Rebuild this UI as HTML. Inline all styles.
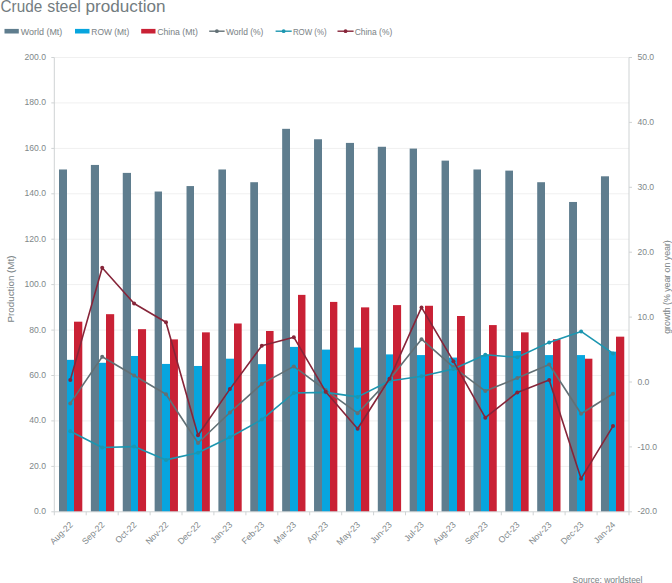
<!DOCTYPE html><html><head><meta charset="utf-8"><style>html,body{margin:0;padding:0;background:#fff;width:672px;height:583px;overflow:hidden}svg{display:block}text{font-family:"Liberation Sans",sans-serif;stroke-width:0}</style></head><body>
<svg width="672" height="583" viewBox="0 0 672 583">
<rect width="672" height="583" fill="#fff"/>
<text x="0.6" y="12.4" font-size="15.6" fill="#737c80" stroke="#737c80" style="stroke-width:0" textLength="41.6" lengthAdjust="spacingAndGlyphs">Crude</text>
<text x="47.2" y="12.4" font-size="15.6" fill="#737c80" stroke="#737c80" style="stroke-width:0" textLength="33.6" lengthAdjust="spacingAndGlyphs">steel</text>
<text x="85.5" y="12.4" font-size="15.6" fill="#737c80" stroke="#737c80" style="stroke-width:0" textLength="80.0" lengthAdjust="spacingAndGlyphs">production</text>
<rect x="4.5" y="28.9" width="14.3" height="4.6" fill="#5f7d8e"/>
<text x="20.8" y="34.5" font-size="9" fill="#80878a" stroke="#80878a" style="stroke-width:0.06" textLength="41.5" lengthAdjust="spacingAndGlyphs">World (Mt)</text>
<rect x="75" y="28.9" width="14.5" height="4.6" fill="#07a5de"/>
<text x="91.3" y="34.5" font-size="9" fill="#80878a" stroke="#80878a" style="stroke-width:0.06" textLength="37.89999999999999" lengthAdjust="spacingAndGlyphs">ROW (Mt)</text>
<rect x="141.2" y="28.9" width="14.300000000000011" height="4.6" fill="#c92135"/>
<text x="157.2" y="34.5" font-size="9" fill="#80878a" stroke="#80878a" style="stroke-width:0.06" textLength="40.60000000000002" lengthAdjust="spacingAndGlyphs">China (Mt)</text>
<line x1="209.2" y1="31.2" x2="224.6" y2="31.2" stroke="#627075" stroke-width="1.4"/>
<circle cx="216.89999999999998" cy="31.2" r="1.9" fill="#627075"/>
<text x="226" y="34.5" font-size="9" fill="#80878a" stroke="#80878a" style="stroke-width:0.06" textLength="37.39999999999998" lengthAdjust="spacingAndGlyphs">World (%)</text>
<line x1="275.6" y1="31.2" x2="291.7" y2="31.2" stroke="#1c96b0" stroke-width="1.4"/>
<circle cx="283.65" cy="31.2" r="1.9" fill="#1c96b0"/>
<text x="292.9" y="34.5" font-size="9" fill="#80878a" stroke="#80878a" style="stroke-width:0.06" textLength="33.700000000000045" lengthAdjust="spacingAndGlyphs">ROW (%)</text>
<line x1="337.5" y1="31.2" x2="353.6" y2="31.2" stroke="#862539" stroke-width="1.4"/>
<circle cx="345.55" cy="31.2" r="1.9" fill="#862539"/>
<text x="354.7" y="34.5" font-size="9" fill="#80878a" stroke="#80878a" style="stroke-width:0.06" textLength="37.5" lengthAdjust="spacingAndGlyphs">China (%)</text>
<line x1="54.3" y1="466.4" x2="629.0" y2="466.4" stroke="#f0f0f0" stroke-width="1"/>
<line x1="54.3" y1="420.9" x2="629.0" y2="420.9" stroke="#f0f0f0" stroke-width="1"/>
<line x1="54.3" y1="375.5" x2="629.0" y2="375.5" stroke="#f0f0f0" stroke-width="1"/>
<line x1="54.3" y1="330.1" x2="629.0" y2="330.1" stroke="#f0f0f0" stroke-width="1"/>
<line x1="54.3" y1="284.6" x2="629.0" y2="284.6" stroke="#f0f0f0" stroke-width="1"/>
<line x1="54.3" y1="239.2" x2="629.0" y2="239.2" stroke="#f0f0f0" stroke-width="1"/>
<line x1="54.3" y1="193.8" x2="629.0" y2="193.8" stroke="#f0f0f0" stroke-width="1"/>
<line x1="54.3" y1="148.4" x2="629.0" y2="148.4" stroke="#f0f0f0" stroke-width="1"/>
<line x1="54.3" y1="102.9" x2="629.0" y2="102.9" stroke="#f0f0f0" stroke-width="1"/>
<line x1="54.3" y1="57.5" x2="629.0" y2="57.5" stroke="#f0f0f0" stroke-width="1"/>
<rect x="59.00" y="169.48" width="8.00" height="342.32" fill="#5f7d8e"/>
<rect x="67.00" y="359.84" width="7.00" height="151.96" fill="#07a5de"/>
<rect x="74.00" y="321.68" width="8.30" height="190.12" fill="#c92135"/>
<rect x="90.88" y="164.94" width="8.12" height="346.86" fill="#5f7d8e"/>
<rect x="99.00" y="362.79" width="7.00" height="149.01" fill="#07a5de"/>
<rect x="106.00" y="314.18" width="8.18" height="197.62" fill="#c92135"/>
<rect x="122.76" y="172.89" width="8.24" height="338.91" fill="#5f7d8e"/>
<rect x="131.00" y="355.98" width="7.00" height="155.82" fill="#07a5de"/>
<rect x="138.00" y="329.17" width="8.06" height="182.63" fill="#c92135"/>
<rect x="154.64" y="191.52" width="7.36" height="320.28" fill="#5f7d8e"/>
<rect x="162.00" y="363.93" width="8.00" height="147.87" fill="#07a5de"/>
<rect x="170.00" y="339.39" width="7.94" height="172.41" fill="#c92135"/>
<rect x="186.52" y="186.07" width="7.48" height="325.73" fill="#5f7d8e"/>
<rect x="194.00" y="365.97" width="8.00" height="145.83" fill="#07a5de"/>
<rect x="202.00" y="332.35" width="7.82" height="179.45" fill="#c92135"/>
<rect x="218.40" y="169.48" width="7.60" height="342.32" fill="#5f7d8e"/>
<rect x="226.00" y="358.70" width="8.00" height="153.10" fill="#07a5de"/>
<rect x="234.00" y="323.49" width="7.70" height="188.31" fill="#c92135"/>
<rect x="250.28" y="182.21" width="7.72" height="329.59" fill="#5f7d8e"/>
<rect x="258.00" y="364.15" width="8.00" height="147.65" fill="#07a5de"/>
<rect x="266.00" y="330.99" width="7.58" height="180.81" fill="#c92135"/>
<rect x="282.16" y="128.83" width="7.84" height="382.97" fill="#5f7d8e"/>
<rect x="290.00" y="346.89" width="8.00" height="164.91" fill="#07a5de"/>
<rect x="298.00" y="294.87" width="7.46" height="216.93" fill="#c92135"/>
<rect x="314.04" y="139.27" width="7.96" height="372.53" fill="#5f7d8e"/>
<rect x="322.00" y="349.61" width="8.00" height="162.19" fill="#07a5de"/>
<rect x="330.00" y="301.91" width="7.34" height="209.89" fill="#c92135"/>
<rect x="345.92" y="142.91" width="8.08" height="368.89" fill="#5f7d8e"/>
<rect x="354.00" y="347.57" width="7.00" height="164.23" fill="#07a5de"/>
<rect x="361.00" y="307.37" width="8.22" height="204.44" fill="#c92135"/>
<rect x="377.80" y="146.77" width="8.20" height="365.03" fill="#5f7d8e"/>
<rect x="386.00" y="354.39" width="7.00" height="157.41" fill="#07a5de"/>
<rect x="393.00" y="305.09" width="8.10" height="206.71" fill="#c92135"/>
<rect x="409.68" y="148.59" width="7.32" height="363.21" fill="#5f7d8e"/>
<rect x="417.00" y="355.07" width="8.00" height="156.73" fill="#07a5de"/>
<rect x="425.00" y="305.77" width="7.98" height="206.03" fill="#c92135"/>
<rect x="441.56" y="160.63" width="7.44" height="351.17" fill="#5f7d8e"/>
<rect x="449.00" y="357.57" width="8.00" height="154.23" fill="#07a5de"/>
<rect x="457.00" y="316.00" width="7.86" height="195.80" fill="#c92135"/>
<rect x="473.44" y="169.48" width="7.56" height="342.32" fill="#5f7d8e"/>
<rect x="481.00" y="355.07" width="8.00" height="156.73" fill="#07a5de"/>
<rect x="489.00" y="325.08" width="7.74" height="186.72" fill="#c92135"/>
<rect x="505.32" y="170.62" width="7.68" height="341.18" fill="#5f7d8e"/>
<rect x="513.00" y="350.98" width="8.00" height="160.82" fill="#07a5de"/>
<rect x="521.00" y="332.35" width="7.62" height="179.45" fill="#c92135"/>
<rect x="537.20" y="182.21" width="7.80" height="329.59" fill="#5f7d8e"/>
<rect x="545.00" y="355.07" width="8.00" height="156.73" fill="#07a5de"/>
<rect x="553.00" y="339.17" width="7.50" height="172.63" fill="#c92135"/>
<rect x="569.08" y="201.97" width="7.92" height="309.83" fill="#5f7d8e"/>
<rect x="577.00" y="355.07" width="8.00" height="156.73" fill="#07a5de"/>
<rect x="585.00" y="358.70" width="7.38" height="153.10" fill="#c92135"/>
<rect x="600.96" y="176.30" width="8.04" height="335.50" fill="#5f7d8e"/>
<rect x="609.00" y="351.66" width="7.00" height="160.14" fill="#07a5de"/>
<rect x="616.00" y="336.67" width="8.26" height="175.13" fill="#c92135"/>
<line x1="54.3" y1="57.5" x2="54.3" y2="511.8" stroke="#cfd3d4" stroke-width="1"/>
<line x1="629.0" y1="57.5" x2="629.0" y2="511.8" stroke="#cfd3d4" stroke-width="1"/>
<line x1="54.3" y1="511.8" x2="629.0" y2="511.8" stroke="#cfd3d4" stroke-width="1"/>
<line x1="51.3" y1="511.8" x2="54.3" y2="511.8" stroke="#cfd3d4" stroke-width="1"/>
<text x="0" y="0" font-size="8.6" fill="#80878a" stroke="#80878a" text-anchor="end" transform="translate(46.0 514.3) scale(1 1.1)">0.0</text>
<line x1="51.3" y1="466.4" x2="54.3" y2="466.4" stroke="#cfd3d4" stroke-width="1"/>
<text x="0" y="0" font-size="8.6" fill="#80878a" stroke="#80878a" text-anchor="end" transform="translate(46.0 468.9) scale(1 1.1)">20.0</text>
<line x1="51.3" y1="420.9" x2="54.3" y2="420.9" stroke="#cfd3d4" stroke-width="1"/>
<text x="0" y="0" font-size="8.6" fill="#80878a" stroke="#80878a" text-anchor="end" transform="translate(46.0 423.4) scale(1 1.1)">40.0</text>
<line x1="51.3" y1="375.5" x2="54.3" y2="375.5" stroke="#cfd3d4" stroke-width="1"/>
<text x="0" y="0" font-size="8.6" fill="#80878a" stroke="#80878a" text-anchor="end" transform="translate(46.0 378.0) scale(1 1.1)">60.0</text>
<line x1="51.3" y1="330.1" x2="54.3" y2="330.1" stroke="#cfd3d4" stroke-width="1"/>
<text x="0" y="0" font-size="8.6" fill="#80878a" stroke="#80878a" text-anchor="end" transform="translate(46.0 332.6) scale(1 1.1)">80.0</text>
<line x1="51.3" y1="284.6" x2="54.3" y2="284.6" stroke="#cfd3d4" stroke-width="1"/>
<text x="0" y="0" font-size="8.6" fill="#80878a" stroke="#80878a" text-anchor="end" transform="translate(46.0 287.1) scale(1 1.1)">100.0</text>
<line x1="51.3" y1="239.2" x2="54.3" y2="239.2" stroke="#cfd3d4" stroke-width="1"/>
<text x="0" y="0" font-size="8.6" fill="#80878a" stroke="#80878a" text-anchor="end" transform="translate(46.0 241.7) scale(1 1.1)">120.0</text>
<line x1="51.3" y1="193.8" x2="54.3" y2="193.8" stroke="#cfd3d4" stroke-width="1"/>
<text x="0" y="0" font-size="8.6" fill="#80878a" stroke="#80878a" text-anchor="end" transform="translate(46.0 196.3) scale(1 1.1)">140.0</text>
<line x1="51.3" y1="148.4" x2="54.3" y2="148.4" stroke="#cfd3d4" stroke-width="1"/>
<text x="0" y="0" font-size="8.6" fill="#80878a" stroke="#80878a" text-anchor="end" transform="translate(46.0 150.9) scale(1 1.1)">160.0</text>
<line x1="51.3" y1="102.9" x2="54.3" y2="102.9" stroke="#cfd3d4" stroke-width="1"/>
<text x="0" y="0" font-size="8.6" fill="#80878a" stroke="#80878a" text-anchor="end" transform="translate(46.0 105.4) scale(1 1.1)">180.0</text>
<line x1="51.3" y1="57.5" x2="54.3" y2="57.5" stroke="#cfd3d4" stroke-width="1"/>
<text x="0" y="0" font-size="8.6" fill="#80878a" stroke="#80878a" text-anchor="end" transform="translate(46.0 60.0) scale(1 1.1)">200.0</text>
<line x1="629.0" y1="511.8" x2="632.0" y2="511.8" stroke="#cfd3d4" stroke-width="1"/>
<text x="0" y="0" font-size="8.6" fill="#80878a" stroke="#80878a" transform="translate(637.4 514.4) scale(1 1.1)">-20.0</text>
<line x1="629.0" y1="446.9" x2="632.0" y2="446.9" stroke="#cfd3d4" stroke-width="1"/>
<text x="0" y="0" font-size="8.6" fill="#80878a" stroke="#80878a" transform="translate(637.4 449.5) scale(1 1.1)">-10.0</text>
<line x1="629.0" y1="382.0" x2="632.0" y2="382.0" stroke="#cfd3d4" stroke-width="1"/>
<text x="0" y="0" font-size="8.6" fill="#80878a" stroke="#80878a" transform="translate(637.4 384.6) scale(1 1.1)">0.0</text>
<line x1="629.0" y1="317.1" x2="632.0" y2="317.1" stroke="#cfd3d4" stroke-width="1"/>
<text x="0" y="0" font-size="8.6" fill="#80878a" stroke="#80878a" transform="translate(637.4 319.7) scale(1 1.1)">10.0</text>
<line x1="629.0" y1="252.2" x2="632.0" y2="252.2" stroke="#cfd3d4" stroke-width="1"/>
<text x="0" y="0" font-size="8.6" fill="#80878a" stroke="#80878a" transform="translate(637.4 254.8) scale(1 1.1)">20.0</text>
<line x1="629.0" y1="187.3" x2="632.0" y2="187.3" stroke="#cfd3d4" stroke-width="1"/>
<text x="0" y="0" font-size="8.6" fill="#80878a" stroke="#80878a" transform="translate(637.4 189.9) scale(1 1.1)">30.0</text>
<line x1="629.0" y1="122.4" x2="632.0" y2="122.4" stroke="#cfd3d4" stroke-width="1"/>
<text x="0" y="0" font-size="8.6" fill="#80878a" stroke="#80878a" transform="translate(637.4 125.0) scale(1 1.1)">40.0</text>
<line x1="629.0" y1="57.5" x2="632.0" y2="57.5" stroke="#cfd3d4" stroke-width="1"/>
<text x="0" y="0" font-size="8.6" fill="#80878a" stroke="#80878a" transform="translate(637.4 60.1) scale(1 1.1)">50.0</text>
<line x1="54.3" y1="511.8" x2="54.3" y2="515.3" stroke="#cfd3d4" stroke-width="1"/>
<line x1="86.2" y1="511.8" x2="86.2" y2="515.3" stroke="#cfd3d4" stroke-width="1"/>
<line x1="118.2" y1="511.8" x2="118.2" y2="515.3" stroke="#cfd3d4" stroke-width="1"/>
<line x1="150.1" y1="511.8" x2="150.1" y2="515.3" stroke="#cfd3d4" stroke-width="1"/>
<line x1="182.0" y1="511.8" x2="182.0" y2="515.3" stroke="#cfd3d4" stroke-width="1"/>
<line x1="213.9" y1="511.8" x2="213.9" y2="515.3" stroke="#cfd3d4" stroke-width="1"/>
<line x1="245.9" y1="511.8" x2="245.9" y2="515.3" stroke="#cfd3d4" stroke-width="1"/>
<line x1="277.8" y1="511.8" x2="277.8" y2="515.3" stroke="#cfd3d4" stroke-width="1"/>
<line x1="309.7" y1="511.8" x2="309.7" y2="515.3" stroke="#cfd3d4" stroke-width="1"/>
<line x1="341.7" y1="511.8" x2="341.7" y2="515.3" stroke="#cfd3d4" stroke-width="1"/>
<line x1="373.6" y1="511.8" x2="373.6" y2="515.3" stroke="#cfd3d4" stroke-width="1"/>
<line x1="405.5" y1="511.8" x2="405.5" y2="515.3" stroke="#cfd3d4" stroke-width="1"/>
<line x1="437.4" y1="511.8" x2="437.4" y2="515.3" stroke="#cfd3d4" stroke-width="1"/>
<line x1="469.4" y1="511.8" x2="469.4" y2="515.3" stroke="#cfd3d4" stroke-width="1"/>
<line x1="501.3" y1="511.8" x2="501.3" y2="515.3" stroke="#cfd3d4" stroke-width="1"/>
<line x1="533.2" y1="511.8" x2="533.2" y2="515.3" stroke="#cfd3d4" stroke-width="1"/>
<line x1="565.1" y1="511.8" x2="565.1" y2="515.3" stroke="#cfd3d4" stroke-width="1"/>
<line x1="597.1" y1="511.8" x2="597.1" y2="515.3" stroke="#cfd3d4" stroke-width="1"/>
<line x1="629.0" y1="511.8" x2="629.0" y2="515.3" stroke="#cfd3d4" stroke-width="1"/>
<text x="73.3" y="525.3" font-size="8.7" fill="#80878a" stroke="#80878a" text-anchor="end" transform="rotate(-45 73.3 525.3)">Aug-22</text>
<text x="105.2" y="525.3" font-size="8.7" fill="#80878a" stroke="#80878a" text-anchor="end" transform="rotate(-45 105.2 525.3)">Sep-22</text>
<text x="137.1" y="525.3" font-size="8.7" fill="#80878a" stroke="#80878a" text-anchor="end" transform="rotate(-45 137.1 525.3)">Oct-22</text>
<text x="169.0" y="525.3" font-size="8.7" fill="#80878a" stroke="#80878a" text-anchor="end" transform="rotate(-45 169.0 525.3)">Nov-22</text>
<text x="201.0" y="525.3" font-size="8.7" fill="#80878a" stroke="#80878a" text-anchor="end" transform="rotate(-45 201.0 525.3)">Dec-22</text>
<text x="232.9" y="525.3" font-size="8.7" fill="#80878a" stroke="#80878a" text-anchor="end" transform="rotate(-45 232.9 525.3)">Jan-23</text>
<text x="264.8" y="525.3" font-size="8.7" fill="#80878a" stroke="#80878a" text-anchor="end" transform="rotate(-45 264.8 525.3)">Feb-23</text>
<text x="296.8" y="525.3" font-size="8.7" fill="#80878a" stroke="#80878a" text-anchor="end" transform="rotate(-45 296.8 525.3)">Mar-23</text>
<text x="328.7" y="525.3" font-size="8.7" fill="#80878a" stroke="#80878a" text-anchor="end" transform="rotate(-45 328.7 525.3)">Apr-23</text>
<text x="360.6" y="525.3" font-size="8.7" fill="#80878a" stroke="#80878a" text-anchor="end" transform="rotate(-45 360.6 525.3)">May-23</text>
<text x="392.5" y="525.3" font-size="8.7" fill="#80878a" stroke="#80878a" text-anchor="end" transform="rotate(-45 392.5 525.3)">Jun-23</text>
<text x="424.5" y="525.3" font-size="8.7" fill="#80878a" stroke="#80878a" text-anchor="end" transform="rotate(-45 424.5 525.3)">Jul-23</text>
<text x="456.4" y="525.3" font-size="8.7" fill="#80878a" stroke="#80878a" text-anchor="end" transform="rotate(-45 456.4 525.3)">Aug-23</text>
<text x="488.3" y="525.3" font-size="8.7" fill="#80878a" stroke="#80878a" text-anchor="end" transform="rotate(-45 488.3 525.3)">Sep-23</text>
<text x="520.3" y="525.3" font-size="8.7" fill="#80878a" stroke="#80878a" text-anchor="end" transform="rotate(-45 520.3 525.3)">Oct-23</text>
<text x="552.2" y="525.3" font-size="8.7" fill="#80878a" stroke="#80878a" text-anchor="end" transform="rotate(-45 552.2 525.3)">Nov-23</text>
<text x="584.1" y="525.3" font-size="8.7" fill="#80878a" stroke="#80878a" text-anchor="end" transform="rotate(-45 584.1 525.3)">Dec-23</text>
<text x="616.0" y="525.3" font-size="8.7" fill="#80878a" stroke="#80878a" text-anchor="end" transform="rotate(-45 616.0 525.3)">Jan-24</text>
<polyline points="70.3,403.4 102.2,356.7 134.1,375.5 166.0,394.3 198.0,443.0 229.9,412.5 261.8,383.9 293.8,366.4 325.7,390.1 357.6,413.2 389.5,379.4 421.5,339.2 453.4,367.1 485.3,391.1 517.3,378.1 549.2,364.5 581.1,413.8 613.0,393.7" fill="none" stroke="#627075" stroke-width="1.6" stroke-linejoin="round"/>
<circle cx="70.3" cy="403.4" r="2" fill="#627075"/>
<circle cx="102.2" cy="356.7" r="2" fill="#627075"/>
<circle cx="134.1" cy="375.5" r="2" fill="#627075"/>
<circle cx="166.0" cy="394.3" r="2" fill="#627075"/>
<circle cx="198.0" cy="443.0" r="2" fill="#627075"/>
<circle cx="229.9" cy="412.5" r="2" fill="#627075"/>
<circle cx="261.8" cy="383.9" r="2" fill="#627075"/>
<circle cx="293.8" cy="366.4" r="2" fill="#627075"/>
<circle cx="325.7" cy="390.1" r="2" fill="#627075"/>
<circle cx="357.6" cy="413.2" r="2" fill="#627075"/>
<circle cx="389.5" cy="379.4" r="2" fill="#627075"/>
<circle cx="421.5" cy="339.2" r="2" fill="#627075"/>
<circle cx="453.4" cy="367.1" r="2" fill="#627075"/>
<circle cx="485.3" cy="391.1" r="2" fill="#627075"/>
<circle cx="517.3" cy="378.1" r="2" fill="#627075"/>
<circle cx="549.2" cy="364.5" r="2" fill="#627075"/>
<circle cx="581.1" cy="413.8" r="2" fill="#627075"/>
<circle cx="613.0" cy="393.7" r="2" fill="#627075"/>
<polyline points="70.3,431.3 102.2,447.5 134.1,446.6 166.0,459.9 198.0,452.7 229.9,437.2 261.8,419.6 293.8,393.0 325.7,392.4 357.6,396.9 389.5,381.0 421.5,376.2 453.4,369.0 485.3,354.7 517.3,357.3 549.2,342.4 581.1,331.4 613.0,353.4" fill="none" stroke="#1c96b0" stroke-width="1.6" stroke-linejoin="round"/>
<circle cx="70.3" cy="431.3" r="2" fill="#1c96b0"/>
<circle cx="102.2" cy="447.5" r="2" fill="#1c96b0"/>
<circle cx="134.1" cy="446.6" r="2" fill="#1c96b0"/>
<circle cx="166.0" cy="459.9" r="2" fill="#1c96b0"/>
<circle cx="198.0" cy="452.7" r="2" fill="#1c96b0"/>
<circle cx="229.9" cy="437.2" r="2" fill="#1c96b0"/>
<circle cx="261.8" cy="419.6" r="2" fill="#1c96b0"/>
<circle cx="293.8" cy="393.0" r="2" fill="#1c96b0"/>
<circle cx="325.7" cy="392.4" r="2" fill="#1c96b0"/>
<circle cx="357.6" cy="396.9" r="2" fill="#1c96b0"/>
<circle cx="389.5" cy="381.0" r="2" fill="#1c96b0"/>
<circle cx="421.5" cy="376.2" r="2" fill="#1c96b0"/>
<circle cx="453.4" cy="369.0" r="2" fill="#1c96b0"/>
<circle cx="485.3" cy="354.7" r="2" fill="#1c96b0"/>
<circle cx="517.3" cy="357.3" r="2" fill="#1c96b0"/>
<circle cx="549.2" cy="342.4" r="2" fill="#1c96b0"/>
<circle cx="581.1" cy="331.4" r="2" fill="#1c96b0"/>
<circle cx="613.0" cy="353.4" r="2" fill="#1c96b0"/>
<polyline points="70.3,380.1 102.2,267.8 134.1,303.5 166.0,322.3 198.0,435.2 229.9,389.1 261.8,345.7 293.8,337.2 325.7,391.7 357.6,428.7 389.5,378.8 421.5,307.4 453.4,361.2 485.3,417.7 517.3,392.4 549.2,380.1 581.1,478.7 613.0,426.1" fill="none" stroke="#862539" stroke-width="1.6" stroke-linejoin="round"/>
<circle cx="70.3" cy="380.1" r="2" fill="#862539"/>
<circle cx="102.2" cy="267.8" r="2" fill="#862539"/>
<circle cx="134.1" cy="303.5" r="2" fill="#862539"/>
<circle cx="166.0" cy="322.3" r="2" fill="#862539"/>
<circle cx="198.0" cy="435.2" r="2" fill="#862539"/>
<circle cx="229.9" cy="389.1" r="2" fill="#862539"/>
<circle cx="261.8" cy="345.7" r="2" fill="#862539"/>
<circle cx="293.8" cy="337.2" r="2" fill="#862539"/>
<circle cx="325.7" cy="391.7" r="2" fill="#862539"/>
<circle cx="357.6" cy="428.7" r="2" fill="#862539"/>
<circle cx="389.5" cy="378.8" r="2" fill="#862539"/>
<circle cx="421.5" cy="307.4" r="2" fill="#862539"/>
<circle cx="453.4" cy="361.2" r="2" fill="#862539"/>
<circle cx="485.3" cy="417.7" r="2" fill="#862539"/>
<circle cx="517.3" cy="392.4" r="2" fill="#862539"/>
<circle cx="549.2" cy="380.1" r="2" fill="#862539"/>
<circle cx="581.1" cy="478.7" r="2" fill="#862539"/>
<circle cx="613.0" cy="426.1" r="2" fill="#862539"/>
<text x="0" y="0" font-size="9.5" fill="#80878a" stroke="#80878a" style="stroke-width:0.05" text-anchor="middle" textLength="67" lengthAdjust="spacingAndGlyphs" transform="translate(13.6 289) rotate(-90)">Production (Mt)</text>
<text x="0" y="0" font-size="9.5" fill="#80878a" stroke="#80878a" style="stroke-width:0.05" text-anchor="middle" textLength="93.5" lengthAdjust="spacingAndGlyphs" transform="translate(670 287) rotate(-90)">growth (% year on year)</text>
<text x="572.5" y="583" font-size="9" fill="#80878a" stroke="#80878a" style="stroke-width:0.05" textLength="70" lengthAdjust="spacingAndGlyphs">Source: worldsteel</text>
</svg></body></html>
